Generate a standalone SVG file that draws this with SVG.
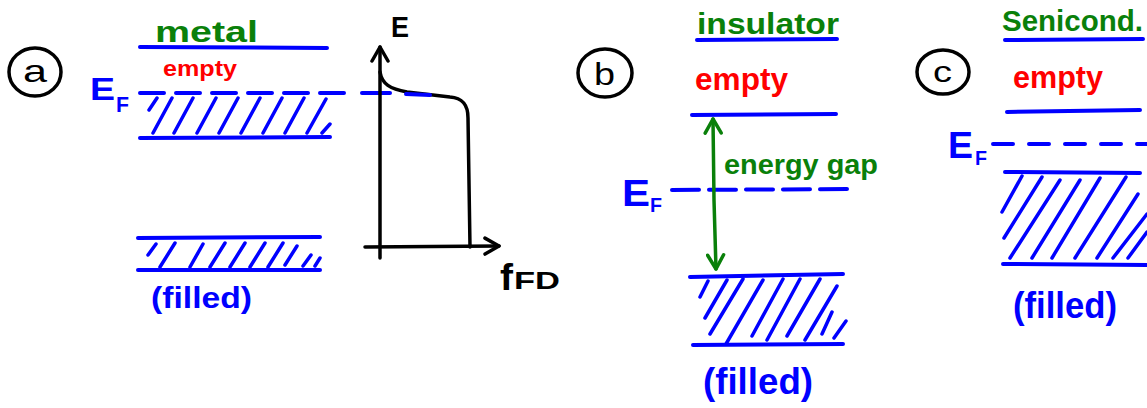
<svg xmlns="http://www.w3.org/2000/svg" width="1147" height="408" viewBox="0 0 1147 408">
<style>
  .bl { stroke:#0000ff; stroke-width:4; stroke-linecap:round; fill:none; }
  .dash { stroke:#0000ff; stroke-width:4; stroke-linecap:round; fill:none; }
  .hatch { stroke:#0000ff; stroke-width:3.5; stroke-linecap:round; fill:none; }
  .blk { stroke:#000; stroke-width:3.5; stroke-linecap:round; stroke-linejoin:round; fill:none; }
  .grn { stroke:#0a800a; stroke-width:3.5; stroke-linecap:round; stroke-linejoin:round; fill:none; }
  .circ { stroke:#000; stroke-width:3.5; fill:none; }
  text { font-family:"Liberation Sans", "DejaVu Sans", sans-serif; font-weight:bold; }
  .lbl { font-weight:normal; }
  .tg { fill:#0a800a; }
  .tr { fill:#ff0000; }
  .tb { fill:#0000ff; }
  .tk { fill:#000; }
</style>
<defs>
  <marker id="chev" viewBox="0 0 20 20" refX="17" refY="10" markerWidth="20" markerHeight="20" markerUnits="userSpaceOnUse" orient="auto-start-reverse">
    <path d="M3,2 L17,10 L3,18" fill="none" stroke="context-stroke" stroke-width="3.5" stroke-linecap="round" stroke-linejoin="round"/>
  </marker>
</defs>

<!-- Panel a: metal -->
<g id="panel-a">
  <ellipse class="circ" cx="35" cy="72" rx="26" ry="24"/>
  <text class="tk lbl" x="23" y="82" font-size="32" textLength="24" lengthAdjust="spacingAndGlyphs">a</text>
  <text class="tg" x="155" y="42" font-size="30" textLength="103" lengthAdjust="spacingAndGlyphs">metal</text>
  <line class="bl" x1="140" y1="47" x2="327" y2="48"/>
  <text class="tr" x="163" y="76" font-size="22" textLength="74" lengthAdjust="spacingAndGlyphs">empty</text>
  <text class="tb" x="90" y="100" font-size="31" textLength="25" lengthAdjust="spacingAndGlyphs">E</text>
  <text class="tb" x="116" y="112" font-size="22" textLength="13" lengthAdjust="spacingAndGlyphs">F</text>
  <line class="dash" x1="140" y1="93" x2="345" y2="93" stroke-dasharray="24 12"/>
  <path class="hatch" d="M149,110 L157,98 M153,133 L172,98 M174,133 L193,98 M197,133 L216,98 M219,133 L238,98 M241,133 L260,98 M263,133 L282,98 M285,133 L304,98 M307,133 L326,99 M322,133 L330,124"/>
  <line class="bl" x1="140" y1="138" x2="330" y2="137"/>
  <!-- lower band -->
  <line class="bl" x1="138" y1="238" x2="320" y2="237"/>
  <path class="hatch" d="M148,255 L156,244 M160,267 L175,243 M190,267 L203,244 M210,267 L225,243 M230,267 L245,243 M250,267 L265,243 M268,267 L283,243 M285,265 L297,246 M303,266 L311,255 M315,266 L320,258"/>
  <line class="bl" x1="138" y1="270" x2="320" y2="270"/>
  <text class="tb" x="151" y="308" font-size="30" textLength="101" lengthAdjust="spacingAndGlyphs">(filled)</text>
</g>

<!-- Fermi-Dirac plot -->
<g id="fermi-plot">
  <text class="tk" x="391" y="37" font-size="29" textLength="18" lengthAdjust="spacingAndGlyphs">E</text>
  <text class="tk" x="500" y="290" font-size="36" textLength="13" lengthAdjust="spacingAndGlyphs">f</text>
  <text class="tk" x="514" y="289" font-size="23" textLength="46" lengthAdjust="spacingAndGlyphs">FD</text>
  <path class="blk" d="M380,72 C382,84 390,89 407,92 L450,97 C462,98 468,104 468,118 L470,247"/>
  <line class="dash" x1="362" y1="93" x2="390" y2="93"/>
  <line class="dash" x1="406" y1="94" x2="430" y2="95"/>
</g>

<!-- Panel b: insulator -->
<g id="panel-b">
  <ellipse class="circ" cx="605" cy="73" rx="27" ry="24"/>
  <text class="tk lbl" x="594" y="85" font-size="32" textLength="21" lengthAdjust="spacingAndGlyphs">b</text>
  <text class="tg" x="697" y="34" font-size="30" textLength="142" lengthAdjust="spacingAndGlyphs">insulator</text>
  <line class="bl" x1="697" y1="40" x2="837" y2="39"/>
  <text class="tr" x="695" y="90" font-size="32" textLength="93" lengthAdjust="spacingAndGlyphs">empty</text>
  <line class="bl" x1="692" y1="115" x2="836" y2="114"/>
  <text class="tg" x="724" y="174" font-size="28" textLength="154" lengthAdjust="spacingAndGlyphs">energy gap</text>
  <text class="tb" x="622" y="206" font-size="36" textLength="28" lengthAdjust="spacingAndGlyphs">E</text>
  <text class="tb" x="650" y="212" font-size="20" textLength="12" lengthAdjust="spacingAndGlyphs">F</text>
  <line class="dash" x1="672" y1="190" x2="850" y2="189" stroke-dasharray="27 10"/>
  <line class="bl" x1="690" y1="277" x2="843" y2="274"/>
  <path class="hatch" d="M700,297 L708,281 M705,318 L727,280 M710,334 L743,279 M726,344 L763,280 M752,336 L783,279 M767,340 L800,279 M787,336 L820,279 M805,340 L837,286 M822,334 L832,312 M834,338 L846,321"/>
  <line class="bl" x1="693" y1="345" x2="843" y2="344"/>
  <text class="tb" x="703" y="394" font-size="36" textLength="110" lengthAdjust="spacingAndGlyphs">(filled)</text>
</g>

<!-- Panel c: semiconductor -->
<g id="panel-c">
  <ellipse class="circ" cx="943" cy="72" rx="26" ry="22"/>
  <text class="tk lbl" x="933" y="82" font-size="30" textLength="19" lengthAdjust="spacingAndGlyphs">c</text>
  <text class="tg" x="1002" y="31" font-size="30" textLength="141" lengthAdjust="spacingAndGlyphs">Senicond.</text>
  <line class="bl" x1="1005" y1="40" x2="1143" y2="39"/>
  <text class="tr" x="1013" y="88" font-size="32" textLength="90" lengthAdjust="spacingAndGlyphs">empty</text>
  <line class="bl" x1="1007" y1="112" x2="1140" y2="110"/>
  <text class="tb" x="948" y="158" font-size="36" textLength="25" lengthAdjust="spacingAndGlyphs">E</text>
  <text class="tb" x="975" y="165" font-size="20" textLength="12" lengthAdjust="spacingAndGlyphs">F</text>
  <line class="dash" x1="993" y1="144" x2="1147" y2="144" stroke-dasharray="20 16"/>
  <line class="bl" x1="1005" y1="172" x2="1140" y2="173"/>
  <path class="hatch" d="M1002,212 L1022,176 M1004,238 L1042,177 M1010,258 L1060,180 M1032,258 L1080,180 M1052,258 L1100,178 M1075,258 L1126,177 M1097,258 L1138,194 M1113,258 L1147,214 M1128,258 L1147,232"/>
  <line class="bl" x1="1003" y1="264" x2="1147" y2="265"/>
  <text class="tb" x="1013" y="318" font-size="36" textLength="104" lengthAdjust="spacingAndGlyphs">(filled)</text>
</g>

<!-- Connectors: axes and energy-gap arrow -->
<g id="connectors">
  <path class="blk" d="M380,258 L380,47" marker-end="url(#chev)"/>
  <path class="blk" d="M365,247 L499,246" marker-end="url(#chev)"/>
  <path class="grn" d="M713,119 L714,200 L716,269" marker-start="url(#chev)" marker-end="url(#chev)"/>
</g>
</svg>
